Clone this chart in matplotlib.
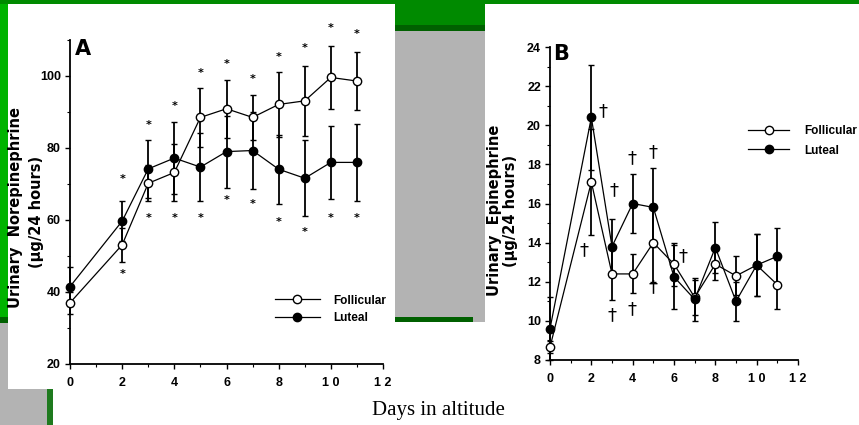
import matplotlib
matplotlib.use("Agg")
import matplotlib.pyplot as plt
from matplotlib.patches import Rectangle
from matplotlib.ticker import MultipleLocator

# ===== fonts =====
SANS = ['Liberation Sans', 'DejaVu Sans']
plt.rcParams['font.family'] = SANS
plt.rcParams['font.weight'] = 'bold'

# ===== data =====
days = [0, 2, 3, 4, 5, 6, 7, 8, 9, 10, 11]

# A: urinary norepinephrine (ug/24 h)
ne_foll = [37.0, 53.1, 70.2, 73.2, 88.5, 90.9, 88.5, 92.1, 93.1, 99.6, 98.6]
ne_foll_err = [3.0, 4.8, 5.0, 8.0, 8.2, 8.0, 6.3, 9.0, 9.7, 8.8, 8.0]
ne_lut = [41.5, 59.7, 74.2, 77.2, 74.7, 79.0, 79.3, 74.1, 71.6, 76.0, 76.0]
ne_lut_err = [5.5, 5.5, 8.0, 10.0, 9.5, 10.0, 10.8, 9.6, 10.5, 10.2, 10.7]

star_days = [2, 3, 4, 5, 6, 7, 8, 9, 10, 11]
star_hi = [71.4, 86.4, 91.7, 100.7, 103.3, 99.2, 105.4, 107.9, 113.2, 111.7]
star_lo = [44.9, 60.5, 60.5, 60.5, 65.5, 64.4, 59.4, 56.7, 60.5, 60.5]

# B: urinary epinephrine (ug/24 h)
epi_foll = [8.66, 17.1, 12.4, 12.4, 14.0, 12.9, 11.2, 12.9, 12.3, 12.85, 11.85]
epi_foll_err = [0.3, 2.7, 1.35, 1.0, 2.0, 1.1, 0.9, 0.8, 1.0, 1.6, 1.25]
epi_lut = [9.6, 20.4, 13.8, 16.0, 15.8, 12.25, 11.1, 13.75, 11.0, 12.85, 13.3]
epi_lut_err = [1.6, 2.7, 1.4, 1.5, 2.0, 1.65, 1.1, 1.3, 1.0, 1.6, 1.45]

dagger_x = [2.56, 3.11, 3.95, 4.97, 1.66, 2.98, 3.95, 4.97, 6.45]
dagger_y = [20.7, 16.7, 18.3, 18.6, 13.6, 10.3, 10.6, 11.7, 13.3]

xtick_labels = ['0', '2', '4', '6', '8', '1 0', '1 2']

# ===== figure + slide background =====
W, H = 859, 425
fig = plt.figure(figsize=(W / 100, H / 100), dpi=100, facecolor='white')

bg = fig.add_axes([0, 0, 1, 1])
bg.set_xlim(0, W)
bg.set_ylim(H, 0)
bg.axis('off')

GREEN = '#008a00'
LGREEN = '#00b300'
DGREEN = '#006000'
GRAY = '#b3b3b3'
blocks = [
    (0, 0, W, 4, GREEN),
    (0, 4, 8, 313, LGREEN),
    (0, 317, 8, 6, DGREEN),
    (0, 323, 47, 102, GRAY),
    (47, 389, 6, 36, '#1e7a1e'),
    (395, 0, 90, 25, GREEN),
    (395, 25, 90, 6, DGREEN),
    (395, 31, 90, 291, GRAY),
    (395, 317, 78, 5, DGREEN),
    (8, 4, 387, 385, 'white'),
]
for x0, y0, w, h, c in blocks:
    bg.add_patch(Rectangle((x0, y0), w, h, facecolor=c, edgecolor='none'))


def px_axes(left, right, top, bottom):
    return fig.add_axes([left / W, 1 - bottom / H, (right - left) / W, (bottom - top) / H],
                        facecolor='none')


def style_axes(ax):
    for s in ('top', 'right'):
        ax.spines[s].set_visible(False)
    for s in ('left', 'bottom'):
        ax.spines[s].set_linewidth(1.3)
    ax.tick_params(which='major', direction='out', length=3.5, width=1.0,
                   labelsize=9, pad=3)
    ax.tick_params(axis='x', which='major', pad=6)
    ax.tick_params(which='minor', direction='out', length=2.0, width=0.8)
    ax.set_xlim(0, 12)
    ax.xaxis.set_major_locator(MultipleLocator(2))
    ax.xaxis.set_minor_locator(MultipleLocator(1))
    ax.set_xticks(range(0, 13, 2), xtick_labels)


def draw_pair(ax, foll, foll_err, lut, lut_err):
    bar_kw = dict(fmt='none', ecolor='black', elinewidth=1.3, capsize=2, capthick=1.0)
    for vals, err in ((foll, foll_err), (lut, lut_err)):
        bars = ax.errorbar(days, vals, yerr=err, **bar_kw)
        for artist in bars.lines[1] + bars.lines[2]:
            artist.set_clip_on(False)
    line_kw = dict(color='black', lw=0.9, ms=6, mec='black', mew=1.0, clip_on=False,
                   zorder=3)
    ax.plot(days, foll, '-o', mfc='white', label='Follicular', **line_kw)
    ax.plot(days, lut, '-o', mfc='black', label='Luteal', **line_kw)


LABEL_KW = dict(rotation=90, fontsize=10.5, fontweight='bold', family='DejaVu Sans',
                ha='center', va='center')

# ===== Panel A =====
axA = px_axes(70, 383, 40, 364)
style_axes(axA)
axA.set_ylim(20, 110)
axA.yaxis.set_minor_locator(MultipleLocator(10))
axA.set_yticks([20, 40, 60, 80, 100])
draw_pair(axA, ne_foll, ne_foll_err, ne_lut, ne_lut_err)
for d, y in zip(star_days, star_hi):
    axA.text(d, y, '*', ha='center', va='center', fontsize=8, clip_on=False,
             family='DejaVu Sans')
for d, y in zip(star_days, star_lo):
    axA.text(d, y, '*', ha='center', va='center', fontsize=8, clip_on=False,
             family='DejaVu Sans')
axA.legend(loc='center left', bbox_to_anchor=(275 / W, 1 - 309.5 / H),
           bbox_transform=fig.transFigure, frameon=False, fontsize=8.5,
           handlelength=3.8, handletextpad=1.1, labelspacing=0.5,
           borderpad=0, borderaxespad=0)
fig.text(82.5 / W, 1 - 49 / H, 'A', fontsize=15, fontweight='bold',
         family='DejaVu Sans', ha='center', va='center')
fig.text(16 / W, 1 - 208 / H, 'Urinary  Norepinephrine', **LABEL_KW)
fig.text(36 / W, 1 - 212 / H, '(\u00b5g/24 hours)', **LABEL_KW)

# ===== Panel B =====
axB = px_axes(550, 798, 47, 360)
style_axes(axB)
axB.set_ylim(8, 24)
axB.yaxis.set_major_locator(MultipleLocator(2))
axB.yaxis.set_minor_locator(MultipleLocator(1))
draw_pair(axB, epi_foll, epi_foll_err, epi_lut, epi_lut_err)
for x, y in zip(dagger_x, dagger_y):
    axB.text(x, y, '\u2020', ha='center', va='center', fontsize=13,
             fontweight='normal', family='DejaVu Sans', clip_on=False)
axB.legend(loc='center left', bbox_to_anchor=(748 / W, 1 - 141 / H),
           bbox_transform=fig.transFigure, frameon=False, fontsize=8.5,
           handlelength=3.5, handletextpad=1.25, labelspacing=0.6,
           borderpad=0, borderaxespad=0)
fig.text(561 / W, 1 - 54.5 / H, 'B', fontsize=15, fontweight='bold',
         family='DejaVu Sans', ha='center', va='center')
fig.text(494 / W, 1 - 210 / H, 'Urinary  Epinephrine', **LABEL_KW)
fig.text(511 / W, 1 - 211 / H, '(\u00b5g/24 hours)', **LABEL_KW)

# ===== shared x label =====
fig.text(438 / W, 1 - 410 / H, 'Days in altitude', fontsize=15,
         fontweight='normal', family=['Liberation Serif', 'DejaVu Serif'],
         ha='center', va='center')

fig.savefig('out.png', dpi=100, facecolor='white')
